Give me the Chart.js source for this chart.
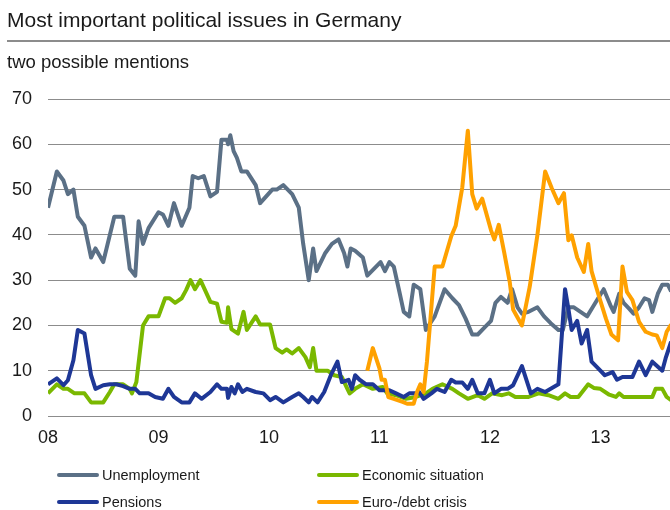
<!DOCTYPE html>
<html>
<head>
<meta charset="utf-8">
<script src="https://cdn.jsdelivr.net/npm/chart.js@4/dist/chart.umd.min.js"></script>
<style>
  html, body { margin: 0; padding: 0; background: #fff; }
  #wrap { position: relative; width: 670px; height: 510px; overflow: hidden; font-family: 'Liberation Sans', Arial, sans-serif; color: #1a1a1a; }
  #title { position: absolute; left: 7px; top: 9px; font-size: 21px; line-height: 21px; white-space: nowrap; }
  #rule { position: absolute; left: 7px; top: 40px; width: 663px; height: 2px; background: #8c8c8c; }
  #subtitle { position: absolute; left: 7px; top: 53px; font-size: 18.5px; line-height: 18px; white-space: nowrap; }
  #chart { position: absolute; left: 0; top: 0; }
  .leg { position: absolute; height: 20px; display: flex; align-items: center; font-size: 14.5px; white-space: nowrap; }
  .leg i { display: inline-block; width: 42px; height: 4px; border-radius: 2px; margin-right: 3px; }
</style>
</head>
<body>
<div id="wrap">
  <canvas id="chart" width="670" height="510"></canvas>
  <div id="title">Most important political issues in Germany</div>
  <div id="rule"></div>
  <div id="subtitle">two possible mentions</div>
  <div id="legend"></div>
</div>
<script>
// Survey dates as decimal years
const unempDates = [2008.00, 2008.08, 2008.14, 2008.18, 2008.23, 2008.27, 2008.33, 2008.39, 2008.43, 2008.50,
  2008.60, 2008.68, 2008.74, 2008.79, 2008.82, 2008.86, 2008.91, 2009.00, 2009.04, 2009.09,
  2009.14, 2009.21, 2009.28, 2009.31, 2009.36, 2009.41, 2009.47, 2009.53, 2009.57, 2009.62,
  2009.63, 2009.65, 2009.68, 2009.71, 2009.75, 2009.80, 2009.88, 2009.92, 2010.03, 2010.07,
  2010.13, 2010.21, 2010.27, 2010.31, 2010.36, 2010.40, 2010.43, 2010.51, 2010.57, 2010.63,
  2010.68, 2010.71, 2010.74, 2010.78, 2010.85, 2010.89, 2010.95, 2011.01, 2011.05, 2011.09,
  2011.13, 2011.18, 2011.22, 2011.27, 2011.31, 2011.37, 2011.42, 2011.50, 2011.59, 2011.66,
  2011.72, 2011.78, 2011.84, 2011.89, 2011.95, 2012.01, 2012.05, 2012.10, 2012.16, 2012.20,
  2012.25, 2012.29, 2012.35, 2012.43, 2012.49, 2012.55, 2012.62, 2012.66, 2012.71, 2012.76,
  2012.82, 2012.88, 2012.93, 2012.97, 2013.03, 2013.09, 2013.12, 2013.17, 2013.21, 2013.26,
  2013.30, 2013.35, 2013.40, 2013.44, 2013.47, 2013.52, 2013.56, 2013.61, 2013.64];
const unempVals = [46, 54, 52, 49, 50, 44, 42, 35, 37, 34,
  44, 44, 32.5, 31, 43, 38, 41.5, 45, 44.5, 42,
  47, 42, 46, 53, 52.5, 53, 48.5, 49.5, 61, 61,
  60, 62, 58.5, 57, 54, 54, 51, 47, 50, 50,
  51, 49, 46, 38, 30, 37, 32, 36, 38, 39,
  36, 33, 37, 36.5, 35, 31, 32.5, 34, 32, 34,
  33, 27.5, 23, 22, 29, 28, 19, 22, 28, 26,
  24.5, 21.5, 18, 18, 19.5, 21, 25, 26.3, 25, 28,
  24, 22.6, 23, 24, 22, 20.5, 19, 19, 24, 24,
  23, 22, 24, 25.6, 28, 24.5, 23, 27, 25, 23.7,
  22.6, 24, 26, 25.6, 23, 27, 29, 29, 27.5];

const econDates = [2008.00, 2008.08, 2008.14, 2008.18, 2008.24, 2008.33, 2008.39, 2008.50, 2008.56, 2008.60,
  2008.68, 2008.74, 2008.76, 2008.80, 2008.86, 2008.91, 2009.00, 2009.06, 2009.10, 2009.15,
  2009.21, 2009.25, 2009.29, 2009.33, 2009.38, 2009.47, 2009.53, 2009.57, 2009.62, 2009.63,
  2009.66, 2009.72, 2009.77, 2009.80, 2009.88, 2009.92, 2010.01, 2010.06, 2010.12, 2010.16,
  2010.21, 2010.27, 2010.33, 2010.37, 2010.40, 2010.43, 2010.53, 2010.59, 2010.66, 2010.71,
  2010.73, 2010.78, 2010.85, 2010.94, 2011.03, 2011.07, 2011.15, 2011.24, 2011.33, 2011.42,
  2011.48, 2011.57, 2011.66, 2011.72, 2011.80, 2011.89, 2011.95, 2012.02, 2012.11, 2012.17,
  2012.23, 2012.35, 2012.44, 2012.53, 2012.62, 2012.68, 2012.73, 2012.80, 2012.89, 2012.94,
  2013.00, 2013.08, 2013.14, 2013.17, 2013.21, 2013.38, 2013.47, 2013.50, 2013.56, 2013.60, 2013.64];
const econVals = [5, 7, 6, 6, 5, 5, 3, 3, 5.3, 7,
  7, 6, 5, 7.5, 20, 22, 22, 26, 26, 25,
  26, 27.8, 30, 28, 30, 25.2, 24.8, 20.8, 20.6, 24,
  19.2, 18.2, 23, 19, 22, 20.2, 20.2, 15, 14, 14.7,
  13.8, 15, 13, 10.8, 15, 10, 10, 9, 8.6, 6,
  5, 6, 7, 6, 6.4, 5, 4.6, 3.8, 4.2, 5,
  6, 7, 6, 5, 3.8, 4.6, 3.8, 5, 4.6, 5,
  4.2, 4.2, 5, 4.6, 3.8, 5, 4.2, 4.2, 7, 6.2,
  6, 4.7, 4.2, 5, 4.2, 4.2, 4.2, 6, 6, 4.2, 3.5];

const pensDates = [2008.00, 2008.08, 2008.14, 2008.18, 2008.23, 2008.27, 2008.33, 2008.39, 2008.43, 2008.50,
  2008.56, 2008.62, 2008.68, 2008.74, 2008.79, 2008.83, 2008.91, 2008.97, 2009.04, 2009.09,
  2009.14, 2009.21, 2009.28, 2009.33, 2009.39, 2009.47, 2009.53, 2009.57, 2009.62, 2009.63,
  2009.66, 2009.69, 2009.72, 2009.76, 2009.80, 2009.88, 2009.95, 2010.01, 2010.06, 2010.13,
  2010.21, 2010.27, 2010.31, 2010.36, 2010.39, 2010.44, 2010.50, 2010.56, 2010.62, 2010.66,
  2010.72, 2010.75, 2010.78, 2010.82, 2010.88, 2010.94, 2011.00, 2011.09, 2011.15, 2011.22,
  2011.27, 2011.33, 2011.36, 2011.40, 2011.47, 2011.52, 2011.59, 2011.65, 2011.69, 2011.75,
  2011.80, 2011.84, 2011.89, 2011.95, 2012.00, 2012.04, 2012.10, 2012.16, 2012.21, 2012.29,
  2012.37, 2012.43, 2012.50, 2012.62, 2012.68, 2012.71, 2012.74, 2012.79, 2012.83, 2012.88,
  2012.92, 2012.98, 2013.04, 2013.11, 2013.15, 2013.20, 2013.29, 2013.35, 2013.41, 2013.47,
  2013.56, 2013.59, 2013.64];
const pensVals = [7, 8.3, 6.8, 7.9, 12.3, 19, 18.2, 9, 6, 6.8,
  7, 7, 6.6, 6, 6, 5, 5, 4.2, 3.8, 6,
  4.2, 3, 3, 5, 3.8, 5.3, 7, 6, 6, 4,
  6.4, 5, 7, 5.3, 6, 5.3, 5, 3.5, 4.2, 3,
  4.2, 5, 4.2, 3, 4.2, 3, 5.3, 9, 12, 7.5,
  8, 6, 9, 8, 7, 7, 5.7, 5.7, 5, 4.2,
  5, 5, 5.3, 3.8, 5, 6, 5.3, 8, 7.4, 7.4,
  6, 8, 5, 5, 8, 5, 6, 6, 6.8, 11,
  5, 6, 5.3, 7, 28, 23.7, 19, 21, 16, 19,
  12, 10.5, 9, 9.7, 8, 8.6, 8.6, 12, 9, 12,
  10, 12.7, 16.4];

const euroDates = [2010.89, 2010.94, 2011.00, 2011.02, 2011.05, 2011.08, 2011.13, 2011.21, 2011.25, 2011.31,
  2011.34, 2011.37, 2011.40, 2011.43, 2011.50, 2011.57, 2011.65, 2011.69, 2011.75, 2011.80,
  2011.84, 2011.88, 2011.93, 2012.01, 2012.04, 2012.08, 2012.13, 2012.18, 2012.21, 2012.29,
  2012.36, 2012.43, 2012.50, 2012.56, 2012.62, 2012.67, 2012.71, 2012.74, 2012.79, 2012.85,
  2012.89, 2012.92, 2012.98, 2013.05, 2013.10, 2013.16, 2013.20, 2013.24, 2013.29, 2013.35,
  2013.41, 2013.47, 2013.51, 2013.56, 2013.60, 2013.64];
const euroVals = [10, 15, 10.5, 8, 8, 4.2, 3.8, 3.1, 2.7, 2.7,
  5.3, 7, 5.3, 12, 33, 33, 39.7, 42, 50.5, 63,
  49, 45.8, 48, 41, 39, 42.2, 36, 29.5, 23.5, 20,
  28.5, 40, 54, 50.3, 47, 49.2, 38.8, 39.9, 35, 31.8,
  38, 32, 27, 21.5, 18, 16.7, 33, 27.4, 25.6, 20.8,
  18.6, 18, 17.8, 15, 18.6, 20.2];

const YEAR_TICKS = [2008, 2009, 2010, 2011, 2012, 2013];
const X_MIN = 2008, X_MAX = 2013.63;

const SERIES = [
  { label: 'Unemployment',       dates: unempDates, vals: unempVals, color: '#5B7086', order: 4 },
  { label: 'Economic situation', dates: econDates,  vals: econVals,  color: '#7AB800', order: 3 },
  { label: 'Pensions',           dates: pensDates,  vals: pensVals,  color: '#1E3796', order: 2 },
  { label: 'Euro-/debt crisis',  dates: euroDates,  vals: euroVals,  color: '#FFA100', order: 1 }
];

const FONT = { family: "'Liberation Sans', Arial, sans-serif", size: 18 };
const TEXT_COLOR = '#1a1a1a';
const GRID_COLOR = '#8c8c8c';

new Chart(document.getElementById('chart'), {
  type: 'line',
  data: {
    datasets: SERIES.map(s => ({
      label: s.label,
      data: s.dates.map((d, i) => ({ x: d, y: s.vals[i] })),
      borderColor: s.color,
      backgroundColor: s.color,
      borderWidth: 4,
      borderJoinStyle: 'round',
      pointRadius: 0,
      tension: 0,
      fill: false,
      order: s.order
    }))
  },
  options: {
    responsive: false,
    animation: false,
    devicePixelRatio: 1,
    layout: { padding: { top: 99, right: 0, bottom: 0, left: 0 } },
    plugins: { legend: { display: false }, tooltip: { enabled: false } },
    scales: {
      x: {
        type: 'linear',
        min: X_MIN,
        max: X_MAX,
        grid: { display: false, drawTicks: false },
        border: { display: false },
        ticks: {
          color: TEXT_COLOR, font: FONT, padding: 11, maxRotation: 0,
          callback: v => String(v).slice(2)
        },
        afterBuildTicks(scale) {
          scale.ticks = YEAR_TICKS.map(v => ({ value: v }));
        },
        afterFit(scale) { scale.height = 94; }
      },
      y: {
        min: 0,
        max: 70,
        grid: { color: GRID_COLOR, lineWidth: 1, drawTicks: false },
        border: { display: false },
        ticks: { stepSize: 10, color: TEXT_COLOR, font: FONT, padding: 16 },
        afterFit(scale) { scale.width = 48; }
      }
    }
  }
});

// legend: two columns, two rows
const LEGEND_POS = [[57, 465], [317, 465], [57, 492], [317, 492]];
const legendEl = document.getElementById('legend');
SERIES.forEach((s, k) => {
  const d = document.createElement('div');
  d.className = 'leg';
  d.style.left = LEGEND_POS[k][0] + 'px';
  d.style.top = LEGEND_POS[k][1] + 'px';
  d.innerHTML = '<i style="background:' + s.color + '"></i>' + s.label;
  legendEl.appendChild(d);
});
</script>
</body>
</html>
